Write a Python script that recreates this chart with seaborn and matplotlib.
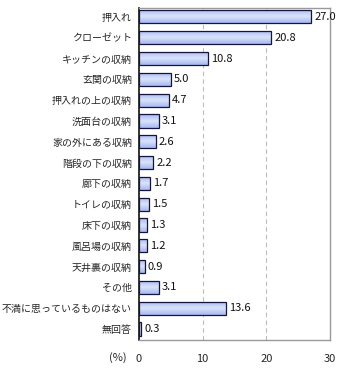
import numpy as np
import pandas as pd
import matplotlib
matplotlib.use("Agg")
import matplotlib.pyplot as plt
import seaborn as sns
from matplotlib.colors import LinearSegmentedColormap

categories = [
    "押入れ", "クローゼット", "キッチンの収納", "玄関の収納", "押入れの上の収納",
    "洗面台の収納", "家の外にある収納", "階段の下の収納", "廊下の収納", "トイレの収納",
    "床下の収納", "風呂場の収納", "天井裏の収納", "その他", "不満に思っているものはない", "無回答",
]
values = [27.0, 20.8, 10.8, 5.0, 4.7, 3.1, 2.6, 2.2, 1.7, 1.5, 1.3, 1.2, 0.9, 3.1, 13.6, 0.3]
x_ticks = [0, 10, 20, 30]

sns.set_theme(style="white")
plt.rcParams["font.family"] = ["Noto Sans CJK JP", "DejaVu Sans"]

df = pd.DataFrame({"項目": categories, "割合": values})

fig = plt.figure(figsize=(3.4, 3.75), dpi=100)
ax = fig.add_axes([139 / 340, 1 - 340 / 375, 191 / 340, 332 / 375])

sns.barplot(data=df, x="割合", y="項目", orient="h", ax=ax, width=0.63,
            color="#bcc9f4", edgecolor="#14143c", linewidth=0.9, saturation=1)

# vertical gradient inside every bar
grad = LinearSegmentedColormap.from_list("g", ["#a5b8f0", "#dbe3fb", "#a5b8f0"])
gvals = np.linspace(0, 1, 64).reshape(-1, 1)
for p in ax.patches:
    x0, y0 = p.get_x(), p.get_y()
    w, h = p.get_width(), p.get_height()
    im = ax.imshow(gvals, cmap=grad, aspect="auto", extent=(x0, x0 + w, y0 + h, y0),
                   zorder=p.get_zorder() - 0.1, interpolation="bilinear")
    im.set_clip_path(p)
    p.set_facecolor("none")
    p.set_zorder(3)

for i, v in enumerate(values):
    ax.text(v + 0.5, i, f"{v:.1f}", va="center", ha="left", fontsize=8, color="#111111")

ax.set_xlim(0, 30)
ax.set_ylim(15.53, -0.43)
ax.set_xticks(x_ticks)
ax.set_xticklabels([str(t) for t in x_ticks], fontsize=8)
ax.set_xlabel("")
ax.set_ylabel("")
ax.tick_params(axis="x", length=0, pad=10)
ax.tick_params(axis="y", length=0, pad=5, labelsize=7.2)
ax.set_yticks(range(len(categories)))
ax.set_yticks(np.arange(0.5, len(categories) - 0.5, 1), minor=True)
ax.tick_params(axis="y", which="minor", direction="in", length=4, width=0.9, color="#111111")

for xv in [10, 20]:
    ax.axvline(xv, color="#bbbbbb", linestyle=(0, (4, 3)), linewidth=0.8, zorder=0)

for s in ["top", "right", "bottom"]:
    ax.spines[s].set_color("#999999")
    ax.spines[s].set_linewidth(1.0)
ax.spines["left"].set_color("#111111")
ax.spines["left"].set_linewidth(1.2)

fig.text(118 / 340, 1 - 358 / 375, "(%)", ha="center", va="center", fontsize=8)

fig.savefig("out.png", dpi=100)
